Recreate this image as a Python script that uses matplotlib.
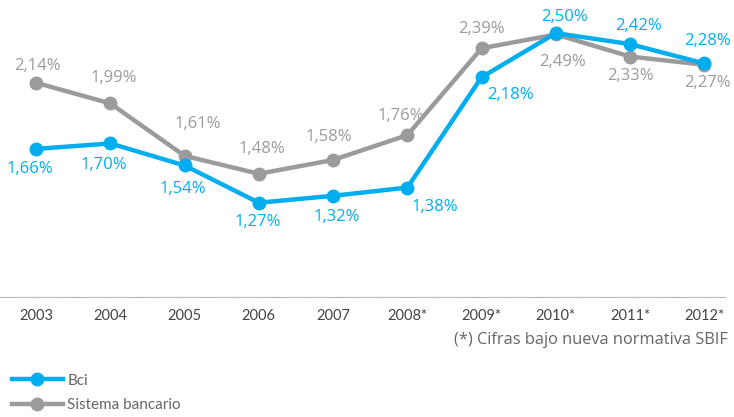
import matplotlib.pyplot as plt

years = ['2003', '2004', '2005', '2006', '2007', '2008*', '2009*', '2010*', '2011*', '2012*']
bci = [1.66, 1.70, 1.54, 1.27, 1.32, 1.38, 2.18, 2.50, 2.42, 2.28]
sistema = [2.14, 1.99, 1.61, 1.48, 1.58, 1.76, 2.39, 2.49, 2.33, 2.27]

# label offsets in pixels (dx, dy) relative to each point
bci_off = [(-6, -20), (-6, -22), (-2, -24), (-1, -19), (4, -21), (28, -19), (29, -18), (9, 16), (8, 18), (3, 22)]
sis_off = [(1, 17), (3, 25), (13, 32), (3, 25), (-4, 23), (-6, 19), (0, 19), (7, -28), (0, -19), (3, -18)]

blue = '#00aeef'
grey = '#9b9b9e'

plt.rcParams['font.family'] = ['Lato', 'DejaVu Sans']

fig = plt.figure(figsize=(7.34, 4.17), dpi=100)
ax = fig.add_axes([0, 0.288, 0.988, 0.712])

x = list(range(len(years)))
ax.plot(x, sistema, color=grey, lw=3.2, marker='o', ms=9, label='Sistema bancario', zorder=2)
ax.plot(x, bci, color=blue, lw=3.2, marker='o', ms=9, label='Bci', zorder=3)

px = 0.72
for i in x:
    ax.annotate(f'{bci[i]:.2f}%'.replace('.', ','), (i, bci[i]), xytext=(bci_off[i][0] * px, bci_off[i][1] * px),
                textcoords='offset points', ha='center', va='center', color=blue, fontsize=12,
                family='Open Sans')
    ax.annotate(f'{sistema[i]:.2f}%'.replace('.', ','), (i, sistema[i]), xytext=(sis_off[i][0] * px, sis_off[i][1] * px),
                textcoords='offset points', ha='center', va='center', color=grey, fontsize=12,
                family='Open Sans')

ax.set_xlim(-0.485, 9.28)
ax.set_ylim(0.587, 2.74)
for s in ['top', 'left', 'right']:
    ax.spines[s].set_visible(False)
ax.spines['bottom'].set_linestyle((0, (1, 1.5)))
ax.spines['bottom'].set_color('#aaaaaa')
ax.spines['bottom'].set_linewidth(0.8)
ax.set_yticks([])
ax.set_xticks(x)
ax.set_xticklabels(years, fontsize=10.5, color='#444444')
ax.tick_params(axis='x', length=0, pad=9)

fig.text(0.992, 0.185, '(*) Cifras bajo nueva normativa SBIF', ha='right', va='center',
         fontsize=11.8, color='#666666', family='Open Sans')

handles, labels = ax.get_legend_handles_labels()
fig.legend(handles[::-1], labels[::-1], loc='lower left', bbox_to_anchor=(0.0, -0.018), frameon=False,
           fontsize=11, labelcolor='#666666', handlelength=3.3, handletextpad=0.3, labelspacing=0.7,
           borderpad=0.3)

fig.savefig('out.png', dpi=100)
